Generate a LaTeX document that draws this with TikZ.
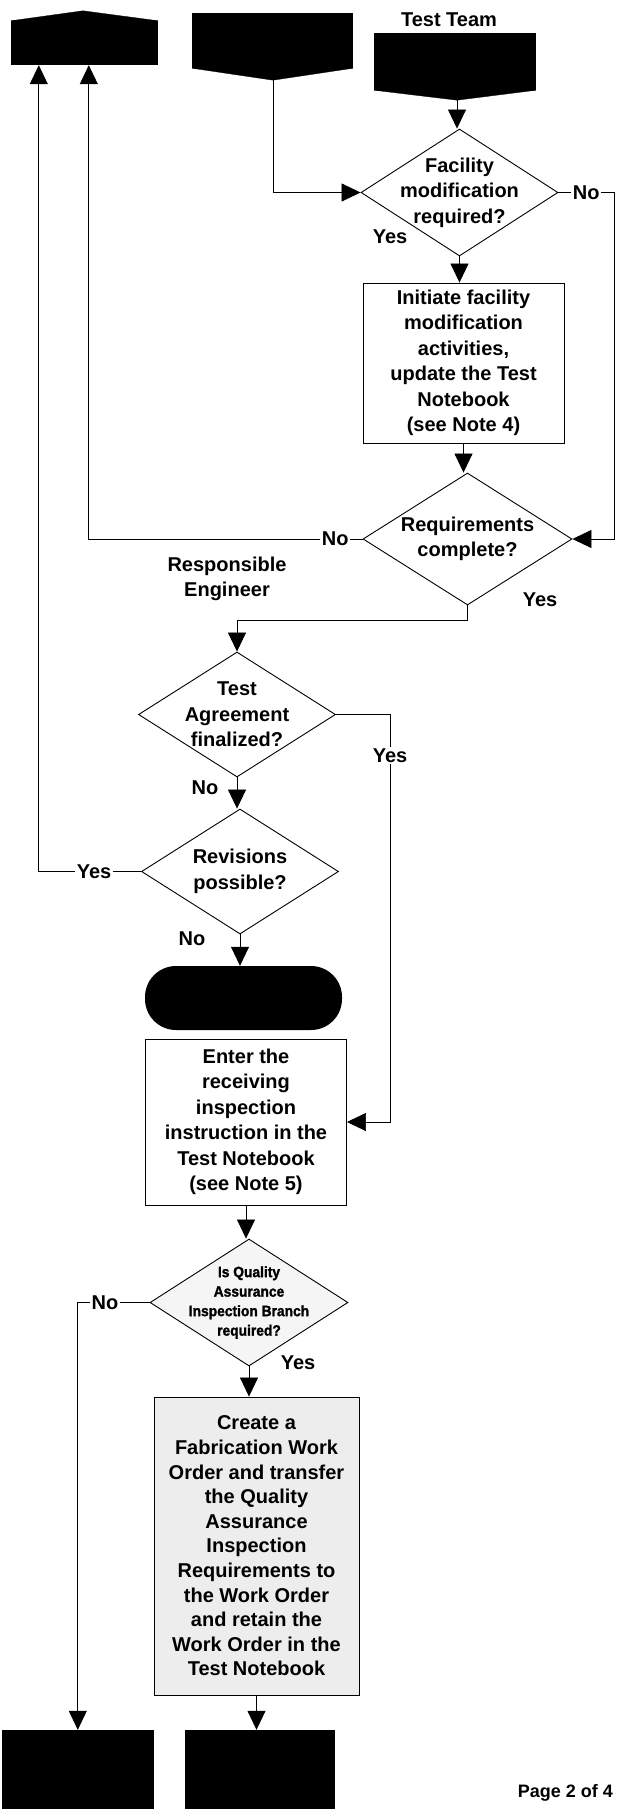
\documentclass[tikz,border=0pt]{standalone}
\usepackage{fontspec}
\setmainfont{Liberation Sans}
\newfontfamily\qafont{Liberation Sans}[FakeStretch=0.92, BoldFeatures={FakeBold=1.5}]
\usetikzlibrary{shapes.geometric,arrows.meta,calc}

\begin{document}
\begin{tikzpicture}[x=1pt,y=-1pt,
  every node/.style={font=\bfseries\fontsize{20}{25.5}\selectfont, inner sep=0pt},
  connector/.style={line width=0.7pt, draw=black},
  arr/.style={connector, -{Triangle[length=19pt,width=18pt]}},
  blackbox/.style={fill=black, draw=none},
  procbox/.style={draw=black, line width=0.9pt, fill=white, align=center},
  decision/.style={diamond, draw=black, line width=0.9pt, fill=white, inner sep=0pt},
  inside/.style={align=center},
  onlbl/.style={fill=white, inner sep=1.5pt},
  smalltext/.style={font=\qafont\bfseries\fontsize{15}{19.5}\selectfont, align=center}
]
\fill[white] (0,0) rectangle (618,1809);
\useasboundingbox (0,0) rectangle (618,1809);

% off-page connectors at the top
\node[blackbox, minimum width=147, minimum height=44] (tl) at (84.5,43) {};
\filldraw[line width=0.3pt] (tl.north west) -- ($(tl.north)+(-1.5,-10)$) -- (tl.north east) -- cycle;
\node[blackbox, minimum width=161, minimum height=55] (tc) at (272.5,40.5) {};
\coordinate (tcp) at ($(tc.south)+(0.5,12)$);
\filldraw[line width=0.3pt] (tc.south west) -- (tcp) -- (tc.south east) -- cycle;
\node[blackbox, minimum width=162, minimum height=57] (tr) at (455,61.5) {};
\coordinate (trp) at ($(tr.south)+(2,10)$);
\filldraw[line width=0.3pt] (tr.south west) -- (trp) -- (tr.south east) -- cycle;
\node (team) at (449,20) {Test Team};

\coordinate (tlinA) at ($(tl.south west)+(28,0)$);
\coordinate (tlinB) at ($(tl.south west)+(78,0)$);

% Test Team lane
\node[decision, minimum width=197, minimum height=127,
      label={[inside]center:{Facility\\modification\\required?}}] (fac) at (459.5,192.5) {};
\node[procbox, minimum width=201, minimum height=160] (init) at (463.5,363)
  {Initiate facility\\modification\\activities,\\update the Test\\Notebook\\(see Note 4)};
\node[decision, minimum width=209, minimum height=132,
      label={[inside]center:{Requirements\\complete?}}] (req) at (467.5,539) {};
\node (yesfac) at (390,237) {Yes};
\node (yesreq) at (540,600) {Yes};

% Responsible Engineer lane
\node[align=center] (re) at (227,579) {Responsible\\Engineer};
\node[decision, minimum width=197, minimum height=125,
      label={[inside]center:{Test\\Agreement\\finalized?}}] (ta) at (237,714.5) {};
\node[decision, minimum width=197, minimum height=125,
      label={[inside]center:{Revisions\\possible?}}] (rev) at (240,871.5) {};
\node (nota) at (205,788) {No};
\node (norev) at (192,939) {No};
\node[fill=black, rounded corners=31pt, minimum width=197, minimum height=64] (term) at (243.5,998) {};
\node[procbox, minimum width=201, minimum height=166] (enter) at (246,1122)
  {Enter the\\receiving\\inspection\\instruction in the\\Test Notebook\\(see Note 5)};
\node[decision, fill=black!4, minimum width=198, minimum height=127,
      label={[smalltext]center:{Is Quality\\Assurance\\Inspection Branch\\required?}}] (qa) at (249,1302.5) {};
\node (yesqa) at (298,1363) {Yes};
\node[procbox, fill=black!7, minimum width=205, minimum height=298,
      font=\bfseries\fontsize{20}{24.6}\selectfont] (create) at (256.5,1546)
  {Create a\\Fabrication Work\\Order and transfer\\the Quality\\Assurance\\Inspection\\Requirements to\\the Work Order\\and retain the\\Work Order in the\\Test Notebook};

% off-page connectors at the bottom
\node[blackbox, minimum width=152, minimum height=79] (bl) at (78,1769.5) {};
\node[blackbox, minimum width=150, minimum height=79] (bc) at (260,1769.5) {};
\coordinate (blin) at ($(bl.north west)+(76,0)$);
\node[anchor=east, font=\bfseries\fontsize{18}{22}\selectfont] (page) at (613,1793) {Page 2 of 4};

% rails for the long return lines
\coordinate (rrail) at (614,0);
\coordinate (mrail) at (390,0);

% connectors
\draw[arr] (trp) -- (trp |- fac.north);
\draw[arr] (tcp) |- (fac.west);
\draw[arr] (fac.east) -- node[onlbl]{No} (fac.east -| rrail) |- (req.east);
\draw[arr] (fac.south) -- (fac.south |- init.north);
\draw[arr] (init.south) -- (init.south |- req.north);
\draw[arr] (req.west) -| node[onlbl, pos=0.05]{No} (tlinB);
\draw[arr] (req.south) -- ++(0,15) -| (ta.north);
\draw[arr] (ta.east) -- (ta.east -| mrail) -- node[onlbl, pos=0.1]{Yes} (enter.east -| mrail) -- (enter.east);
\draw[arr] (ta.south) -- (ta.south |- rev.north);
\draw[arr] (rev.west) -| node[onlbl, pos=0.23]{Yes} (tlinA);
\draw[arr] (rev.south) -- (rev.south |- term.north);
\draw[arr] (enter.south) -- (enter.south |- qa.north);
\draw[arr] (qa.west) -| node[onlbl, pos=0.31]{No} (blin);
\draw[arr] (qa.south) -- (qa.south |- create.north);
\draw[arr] (create.south) -- (create.south |- bc.north);
\end{tikzpicture}
\end{document}
